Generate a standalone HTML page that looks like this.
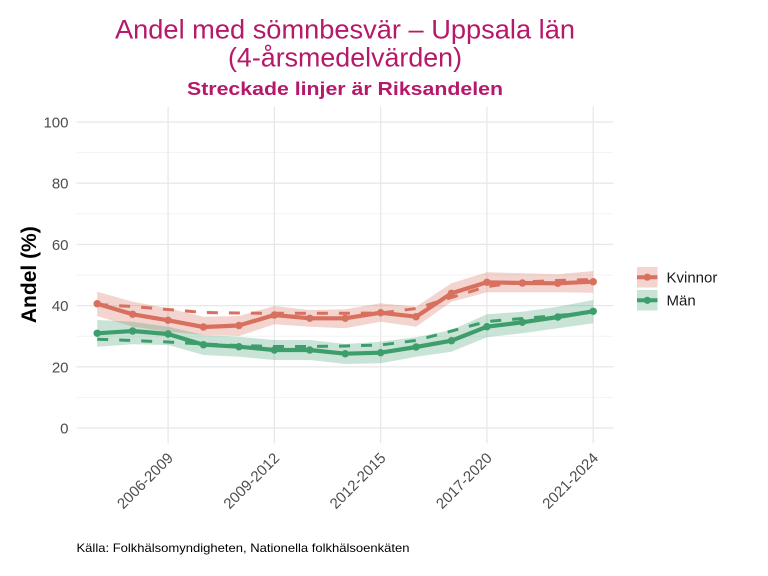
<!DOCTYPE html>
<html>
<head>
<meta charset="utf-8">
<style>
  html, body { margin:0; padding:0; background:#ffffff; }
  body { width:768px; height:576px; overflow:hidden; }
  svg { display:block; }
  text { font-family: "Liberation Sans", "DejaVu Sans", sans-serif; }
</style>
</head>
<body>
<svg width="768" height="576" viewBox="0 0 768 576" xmlns="http://www.w3.org/2000/svg">
  <rect x="0" y="0" width="768" height="576" fill="#ffffff"/>

  <!-- Titles -->
  <text x="345" y="38.3" font-size="26.5" fill="#b6186a" text-anchor="middle" textLength="460" lengthAdjust="spacingAndGlyphs">Andel med sömnbesvär – Uppsala län</text>
  <text x="345" y="66.5" font-size="26.5" fill="#b6186a" text-anchor="middle" textLength="234" lengthAdjust="spacingAndGlyphs">(4-årsmedelvärden)</text>
  <text x="345" y="95" font-size="18" font-weight="bold" fill="#b6186a" text-anchor="middle" textLength="316" lengthAdjust="spacingAndGlyphs">Streckade linjer är Riksandelen</text>

  <!-- Minor gridlines -->
  <g stroke="#f3f3f3" stroke-width="1">
    <line x1="76.5" x2="613.5" y1="397.4" y2="397.4"/>
    <line x1="76.5" x2="613.5" y1="336.2" y2="336.2"/>
    <line x1="76.5" x2="613.5" y1="275" y2="275"/>
    <line x1="76.5" x2="613.5" y1="213.8" y2="213.8"/>
    <line x1="76.5" x2="613.5" y1="152.6" y2="152.6"/>
  </g>
  <!-- Major gridlines -->
  <g stroke="#e8e8e8" stroke-width="1.3">
    <line x1="76.5" x2="613.5" y1="428" y2="428"/>
    <line x1="76.5" x2="613.5" y1="366.8" y2="366.8"/>
    <line x1="76.5" x2="613.5" y1="305.6" y2="305.6"/>
    <line x1="76.5" x2="613.5" y1="244.4" y2="244.4"/>
    <line x1="76.5" x2="613.5" y1="183.2" y2="183.2"/>
    <line x1="76.5" x2="613.5" y1="122" y2="122"/>
    <line x1="168.06" x2="168.06" y1="106.7" y2="443.3"/>
    <line x1="274.35" x2="274.35" y1="106.7" y2="443.3"/>
    <line x1="380.64" x2="380.64" y1="106.7" y2="443.3"/>
    <line x1="486.93" x2="486.93" y1="106.7" y2="443.3"/>
    <line x1="593.22" x2="593.22" y1="106.7" y2="443.3"/>
  </g>

  <!-- Y tick labels -->
  <g font-size="15" fill="#4d4d4d" text-anchor="end">
    <text x="68.5" y="433.5">0</text>
    <text x="68.5" y="372.3">20</text>
    <text x="68.5" y="311.1">40</text>
    <text x="68.5" y="249.9">60</text>
    <text x="68.5" y="188.7">80</text>
    <text x="68.5" y="127.5">100</text>
  </g>

  <!-- Y axis title -->
  <text x="0" y="0" font-size="21" font-weight="bold" fill="#000" text-anchor="middle" transform="translate(36,274.7) rotate(-90)">Andel (%)</text>

  <!-- X tick labels -->
  <g font-size="15" fill="#4d4d4d" text-anchor="end">
    <text transform="translate(174,459) rotate(-45)">2006-2009</text>
    <text transform="translate(280.3,459) rotate(-45)">2009-2012</text>
    <text transform="translate(386.6,459) rotate(-45)">2012-2015</text>
    <text transform="translate(492.9,459) rotate(-45)">2017-2020</text>
    <text transform="translate(599.2,459) rotate(-45)">2021-2024</text>
  </g>

  <!-- Ribbons -->
  <polygon fill="#d8705f" fill-opacity="0.3" points="97.2,291.7 132.63,301.7 168.06,308.3 203.49,316.7 238.92,316 274.35,306 309.78,310 345.21,309.3 380.64,303.3 416.07,306.7 451.5,283.3 486.93,272.3 522.36,273.3 557.79,274.3 593.22,271 593.22,292.7 557.79,292.3 522.36,292.3 486.93,292.3 451.5,301.7 416.07,326.7 380.64,321.7 345.21,328.3 309.78,326.7 274.35,324.3 238.92,336 203.49,335 168.06,331.7 132.63,326.7 97.2,316"/>
  <polygon fill="#3d9e6b" fill-opacity="0.28" points="97.2,320 132.63,321.7 168.06,326.7 203.49,335 238.92,336.7 274.35,340 309.78,340 345.21,344 380.64,341.7 416.07,337.3 451.5,330 486.93,314.3 522.36,311.7 557.79,306.7 593.22,300 593.22,323.3 557.79,328.3 522.36,333.3 486.93,337.3 451.5,351.7 416.07,356.7 380.64,363.3 345.21,364 309.78,360 274.35,360 238.92,356.7 203.49,355 168.06,345 132.63,344.3 97.2,346.7"/>

  <!-- Solid lines -->
  <polyline fill="none" stroke="#d8705f" stroke-width="4.2" stroke-linejoin="round" points="97.2,303.7 132.63,314.3 168.06,320.3 203.49,327 238.92,325.5 274.35,315 309.78,318.3 345.21,318.3 380.64,312.7 416.07,316.7 451.5,293.3 486.93,282.3 522.36,283 557.79,283.3 593.22,281.7"/>
  <polyline fill="none" stroke="#3d9e6b" stroke-width="4.2" stroke-linejoin="round" points="97.2,333.3 132.63,331 168.06,334 203.49,344.7 238.92,346.7 274.35,350 309.78,350 345.21,353.7 380.64,352.7 416.07,347 451.5,340.7 486.93,326.7 522.36,322.3 557.79,317 593.22,311.3"/>

  <!-- Dashed lines -->
  <polyline fill="none" stroke="#d8705f" stroke-width="3" stroke-dasharray="11 11" points="97.2,304.5 132.63,306.5 168.06,309.5 203.49,312.5 238.92,313 274.35,313.3 309.78,313.3 345.21,313.3 380.64,313 416.07,308.5 451.5,297.5 486.93,286.5 522.36,282 557.79,280.5 593.22,279.5"/>
  <polyline fill="none" stroke="#3d9e6b" stroke-width="3" stroke-dasharray="11 11" points="97.2,339.3 132.63,340.5 168.06,342 203.49,344 238.92,345.5 274.35,346.5 309.78,346.5 345.21,346 380.64,345 416.07,340.5 451.5,331 486.93,321.5 522.36,318.5 557.79,315.5 593.22,312"/>

  <!-- Points -->
  <g fill="#d8705f">
    <circle cx="97.2" cy="303.7" r="3.7"/><circle cx="132.63" cy="314.3" r="3.7"/><circle cx="168.06" cy="320.3" r="3.7"/><circle cx="203.49" cy="327" r="3.7"/><circle cx="238.92" cy="325.5" r="3.7"/><circle cx="274.35" cy="315" r="3.7"/><circle cx="309.78" cy="318.3" r="3.7"/><circle cx="345.21" cy="318.3" r="3.7"/><circle cx="380.64" cy="312.7" r="3.7"/><circle cx="416.07" cy="316.7" r="3.7"/><circle cx="451.5" cy="293.3" r="3.7"/><circle cx="486.93" cy="282.3" r="3.7"/><circle cx="522.36" cy="283" r="3.7"/><circle cx="557.79" cy="283.3" r="3.7"/><circle cx="593.22" cy="281.7" r="3.7"/>
  </g>
  <g fill="#3d9e6b">
    <circle cx="97.2" cy="333.3" r="3.7"/><circle cx="132.63" cy="331" r="3.7"/><circle cx="168.06" cy="334" r="3.7"/><circle cx="203.49" cy="344.7" r="3.7"/><circle cx="238.92" cy="346.7" r="3.7"/><circle cx="274.35" cy="350" r="3.7"/><circle cx="309.78" cy="350" r="3.7"/><circle cx="345.21" cy="353.7" r="3.7"/><circle cx="380.64" cy="352.7" r="3.7"/><circle cx="416.07" cy="347" r="3.7"/><circle cx="451.5" cy="340.7" r="3.7"/><circle cx="486.93" cy="326.7" r="3.7"/><circle cx="522.36" cy="322.3" r="3.7"/><circle cx="557.79" cy="317" r="3.7"/><circle cx="593.22" cy="311.3" r="3.7"/>
  </g>

  <!-- Legend -->
  <rect x="637" y="267" width="20.5" height="20.5" fill="#d8705f" fill-opacity="0.3"/>
  <line x1="637" x2="657.5" y1="277.2" y2="277.2" stroke="#d8705f" stroke-width="4"/>
  <circle cx="647.3" cy="277.2" r="3.6" fill="#d8705f"/>
  <rect x="637" y="290" width="20.5" height="20.5" fill="#3d9e6b" fill-opacity="0.28"/>
  <line x1="637" x2="657.5" y1="300.3" y2="300.3" stroke="#3d9e6b" stroke-width="4"/>
  <circle cx="647.3" cy="300.3" r="3.6" fill="#3d9e6b"/>
  <text x="666.5" y="282.3" font-size="15" fill="#1a1a1a">Kvinnor</text>
  <text x="666.5" y="305.7" font-size="15" fill="#1a1a1a">Män</text>

  <!-- Caption -->
  <text x="76.5" y="552" font-size="12" fill="#000" textLength="333" lengthAdjust="spacingAndGlyphs">Källa: Folkhälsomyndigheten, Nationella folkhälsoenkäten</text>
</svg>
</body>
</html>
